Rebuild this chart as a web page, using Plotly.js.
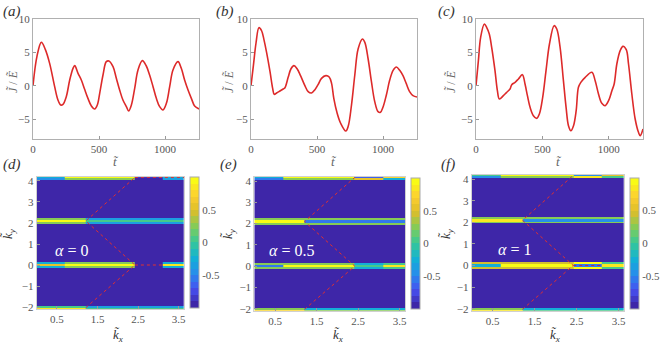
<!DOCTYPE html>
<html>
<head>
<meta charset="utf-8">
<script src="https://cdn.plot.ly/plotly-3.0.1.min.js"></script>
<style>body{margin:0;background:#fff}#chart{width:664px;height:350px}</style>
</head>
<body>
<div id="chart"></div>
<script>
// current J/E versus time (a)-(c)
const tA = [0, 30, 63, 93, 126, 164, 189, 210, 227, 252, 278, 303, 316, 341, 366, 391, 416, 442, 467, 487, 505, 530, 555, 575, 606, 631, 656, 681, 707, 724, 745, 770, 795, 828, 858, 883, 909, 934, 959, 984, 1010, 1035, 1060, 1098, 1123, 1148, 1174, 1199, 1224, 1257];
const jA = [0, 4.4, 6.5, 5.45, 3.35, -0.15, -2.15, -2.9, -2.8, -1.65, 0.85, 2.6, 3.0, 1.85, 0.85, -0.55, -1.9, -3.05, -3.5, -2.9, -1.15, 1.6, 3.6, 3.7, 2.85, 1.1, -0.65, -2.15, -3.15, -3.8, -2.9, -0.4, 2.35, 3.75, 2.95, 1.6, -0.15, -1.9, -3.15, -3.65, -2.65, -0.15, 2.35, 3.6, 2.6, 0.85, -0.65, -1.9, -3.05, -3.5];

const tB = [0, 18, 38, 60, 81, 98, 118, 144, 164, 176, 194, 219, 244, 257, 282, 302, 325, 350, 375, 408, 433, 458, 484, 509, 534, 567, 592, 610, 627, 652, 678, 718, 736, 761, 786, 811, 844, 862, 887, 912, 937, 962, 980, 1000, 1025, 1050, 1076, 1101, 1126, 1151, 1176, 1201, 1227, 1257];
const jB = [0, 3.0, 6.4, 8.7, 8.2, 6.9, 5.0, 2.1, -0.4, -1.3, -1.1, -0.8, -0.5, -0.3, 1.3, 2.5, 3.0, 2.5, 1.5, 0, -0.9, -1.1, -0.6, 0.2, 1.1, 1.5, 1.3, 0.35, -1.9, -4.1, -5.6, -6.8, -6.1, -2.9, 1.6, 5.5, 7.0, 6.5, 4.0, 0.6, -2.4, -3.9, -4.0, -3.2, -1.4, 0.8, 2.3, 2.8, 2.3, 1.5, 0.3, -0.9, -1.5, -1.7];

const tC = [0, 18, 35, 63, 80, 100, 118, 143, 161, 176, 206, 231, 256, 269, 294, 319, 349, 369, 387, 407, 432, 457, 477, 502, 527, 553, 588, 608, 633, 658, 678, 696, 714, 734, 754, 771, 789, 822, 872, 897, 922, 947, 972, 998, 1023, 1040, 1060, 1085, 1106, 1131, 1148, 1173, 1198, 1223, 1236, 1257];
const jC = [0, 3.75, 7.25, 9.25, 8.75, 7.75, 5.75, 2.25, -0.75, -2.0, -1.5, -1.0, -0.5, 0.15, 0.5, 1.0, 1.65, 0.25, -1.5, -3.25, -4.5, -4.9, -4.25, -1.75, 2.25, 6.25, 9.0, 8.5, 5.75, 0.75, -3.25, -6.0, -6.75, -6.0, -3.75, -0.25, 0.5, 1.25, 2.0, 0.75, -1.25, -2.65, -3.0, -2.25, -0.75, 0.25, 3.25, 5.25, 5.9, 5.4, 3.25, -1.25, -5.0, -7.0, -7.5, -6.5];

// momentum-space maps (d)-(f): cell edges and values
const kxEdges = [0, 0.7, 1.21, 2.42, 3.1, 3.63];
const kyEdges = [-2.094, -2.04, -1.95, -0.15, -0.06, 0.06, 0.15, 1.945, 2.035, 2.155, 2.245, 4.04, 4.13, 4.189];
const bg = -0.95;
const zD = [
  [0.8, 0.8, 0.0, 0.0, 0.0],
  [0.1, 0.1, -0.4, -0.4, -0.4],
  [bg, bg, bg, bg, bg],
  [-0.2, 0.3, 0.3, bg, -0.3],
  [0.6, 0.95, 0.95, bg, 0.8],
  [-0.2, 0.3, 0.3, bg, -0.3],
  [bg, bg, bg, bg, bg],
  [0.3, 0.3, -0.35, -0.35, -0.35],
  [0.9, 0.9, 0.05, 0.05, 0.05],
  [0.3, 0.3, -0.35, -0.35, -0.35],
  [bg, bg, bg, bg, bg],
  [-0.5, 0.3, 0.3, bg, -0.4],
  [-0.2, 0.9, 0.9, -0.9, -0.2]
];
const zE = [
  [0.75, 0.75, 0.2, 0.2, 0.2],
  [0.2, 0.2, -0.3, -0.3, -0.3],
  [bg, bg, bg, bg, bg],
  [0.2, 0.3, 0.3, -0.2, 0.0],
  [-0.6, 1.0, 1.0, 0.0, 0.8],
  [0.2, 0.3, 0.3, -0.2, 0.0],
  [bg, bg, bg, bg, bg],
  [0.2, 0.2, 0.3, 0.3, 0.3],
  [0.9, 0.9, -0.6, -0.6, -0.6],
  [0.2, 0.2, 0.3, 0.3, 0.3],
  [bg, bg, bg, bg, bg],
  [-0.6, 0.2, 0.2, 0.5, -0.3],
  [-0.2, 0.9, 0.9, -0.7, 0.7]
];
const zF = [
  [0.8, 0.8, 0.1, 0.1, 0.1],
  [0.3, 0.3, -0.3, -0.3, -0.3],
  [bg, bg, bg, bg, bg],
  [0.4, 0.4, 0.4, 0.9, 0.1],
  [-0.3, 1.0, 1.0, -0.6, 0.8],
  [0.4, 0.4, 0.4, 0.9, 0.1],
  [bg, bg, bg, bg, bg],
  [0.3, 0.3, 0.2, 0.2, 0.2],
  [0.85, 0.85, -0.5, -0.5, -0.5],
  [0.3, 0.3, 0.2, 0.2, 0.2],
  [bg, bg, bg, bg, bg],
  [-0.5, 0.3, 0.3, 0.8, 0.0],
  [0.0, 0.9, 0.9, -0.5, 0.6]
];
// red zone-boundary path
const pathKx = [1.21, 2.42, 1.21, 2.42];
const pathKy = [-2.03, 0, 2.094, 4.17];
const flatKx = [2.42, 3.1];
const flatKy = [0, 0];
const topKx = [2.42, 3.63];
const topKy = [4.17, 4.17];
const alphaValues = ['0', '0.5', '1'];

// stepped parula
const parula = [[62,38,168],[70,80,240],[40,140,235],[18,177,214],[55,200,151],[129,204,89],[220,189,41],[252,207,48],[249,251,21]];
function parulaAt(f) {
  const p = f * (parula.length - 1), i = Math.min(Math.floor(p), parula.length - 2), r = p - i;
  const c = parula[i].map((v, k) => Math.round(v + (parula[i + 1][k] - v) * r));
  return 'rgb(' + c.join(',') + ')';
}
const nLev = 20, steps = [];
for (let i = 0; i < nLev; i++) {
  const col = parulaAt(i / (nLev - 1));
  steps.push([i / nLev, col], [(i + 1) / nLev, col]);
}

const W = 664, H = 350;
const px = p => p / W, py = p => 1 - p / H;
const serif = '"Liberation Serif", "Times New Roman", Times, serif';
const tickFont = {family: serif, size: 11, color: '#555'};

function axis(dom, extra) {
  return Object.assign({domain: dom, showline: true, mirror: true, linecolor: '#b0b0b0', linewidth: 1,
    ticks: 'inside', ticklen: 3, tickcolor: '#999', showgrid: false, zeroline: false, tickfont: tickFont}, extra);
}

const red = '#dd2a2a';
const data = [
  {x: tA, y: jA, xaxis: 'x', yaxis: 'y', mode: 'lines', line: {color: red, width: 1.6, shape: 'spline'}},
  {x: tB, y: jB, xaxis: 'x2', yaxis: 'y2', mode: 'lines', line: {color: red, width: 1.6, shape: 'spline'}},
  {x: tC, y: jC, xaxis: 'x3', yaxis: 'y3', mode: 'lines', line: {color: red, width: 1.6, shape: 'spline'}}
];

const maps = [zD, zE, zF];
const cbX = [190, 410.7, 630];
const cbMid = [242.5, 243.5, 243];
maps.forEach((z, i) => {
  const n = i + 4;
  data.push({type: 'heatmap', x: kxEdges, y: kyEdges, z: z, zmin: -1, zmax: 1, colorscale: steps,
    xaxis: 'x' + n, yaxis: 'y' + n, hoverinfo: 'skip',
    colorbar: {x: px(cbX[i]), xanchor: 'left', xref: 'paper', thickness: 9, thicknessmode: 'pixels',
      len: 131, lenmode: 'pixels', y: py(cbMid[i]), yanchor: 'middle', xpad: 0, ypad: 0,
      outlinewidth: 1, outlinecolor: '#aaa', tickvals: [-0.5, 0, 0.5], ticktext: ['-0.5', '0', '0.5'],
      ticks: '', tickfont: {family: serif, size: 11, color: '#555'}}});
  data.push({x: pathKx, y: pathKy, xaxis: 'x' + n, yaxis: 'y' + n, mode: 'lines',
    line: {color: '#e03030', width: 1, dash: 'dot'}});
});
data.push({x: flatKx, y: flatKy, xaxis: 'x4', yaxis: 'y4', mode: 'lines', line: {color: '#e03030', width: 1, dash: 'dot'}});
data.push({x: topKx, y: topKy, xaxis: 'x4', yaxis: 'y4', mode: 'lines', line: {color: '#e03030', width: 1, dash: 'dot'}});
data.push({x: flatKx, y: flatKy, xaxis: 'x6', yaxis: 'y6', mode: 'lines', line: {color: '#c03040', width: 1, dash: 'dot'}});

const topY = [py(139), py(19)];
const tX = {range: [0, 1257], tickvals: [0, 500, 1000]};
const tY = {range: [-8, 10], tickvals: [-5, 0, 5, 10]};
const kX = {range: [0, 3.63], tickvals: [0.5, 1.5, 2.5, 3.5], ticktext: ['0.5', '1.5', '2.5', '3.5'], linecolor: '#d0d0d0'};
const kY = {range: [-2.094, 4.189], tickvals: [-2, -1, 0, 1, 2, 3, 4], linecolor: '#d0d0d0'};

const layout = {
  width: W, height: H, margin: {l: 0, r: 0, t: 0, b: 0}, showlegend: false,
  paper_bgcolor: '#fff', plot_bgcolor: '#fff',
  font: {family: serif},
  xaxis: axis([px(33), px(199)], Object.assign({anchor: 'y'}, tX)),
  yaxis: axis(topY, Object.assign({anchor: 'x'}, tY)),
  xaxis2: axis([px(251), px(417)], Object.assign({anchor: 'y2'}, tX)),
  yaxis2: axis(topY, Object.assign({anchor: 'x2'}, tY)),
  xaxis3: axis([px(476), px(643)], Object.assign({anchor: 'y3'}, tX)),
  yaxis3: axis(topY, Object.assign({anchor: 'x3'}, tY)),
  xaxis4: axis([px(36.7), px(184)], Object.assign({anchor: 'y4'}, kX)),
  yaxis4: axis([py(309), py(177)], Object.assign({anchor: 'x4'}, kY)),
  xaxis5: axis([px(254.3), px(405)], Object.assign({anchor: 'y5'}, kX)),
  yaxis5: axis([py(310.7), py(177)], Object.assign({anchor: 'x5'}, kY)),
  xaxis6: axis([px(471.7), px(624)], Object.assign({anchor: 'y6'}, kX)),
  yaxis6: axis([py(310.7), py(175)], Object.assign({anchor: 'x6'}, kY)),
  annotations: []
};

function note(text, x, y, size, color, extra) {
  layout.annotations.push(Object.assign({text: text, x: px(x), y: py(y), xref: 'paper', yref: 'paper',
    showarrow: false, xanchor: 'center', yanchor: 'middle',
    font: {family: serif, size: size, color: color}}, extra || {}));
}
// panel letters
[['(a)', 12, 12], ['(b)', 225, 12], ['(c)', 446, 12], ['(d)', 12, 164], ['(e)', 228, 164], ['(f)', 448, 164]]
  .forEach(l => note('<i>' + l[0] + '</i>', l[1], l[2], 15, '#333'));
// axis titles
[13, 229, 451].forEach(x => note('<i>J\u0303</i> / <i>E\u0303</i>', x, 82, 12, '#666', {textangle: -90}));
[116, 334, 559].forEach(x => note('<i>t\u0303</i>', x, 161, 13, '#666'));
[8, 228, 446].forEach(x => note('<i>k\u0303<sub>y</sub></i>', x, 234, 13, '#333', {textangle: -90}));
[118, 338, 555].forEach(x => note('<i>k\u0303<sub>x</sub></i>', x, 335, 13, '#333'));
// alpha labels
[[71, 250], [291, 250], [514, 249]].forEach((p, i) =>
  note('<i>\u03b1</i> = ' + alphaValues[i], p[0], p[1], 16, '#fff'));

Plotly.newPlot('chart', data, layout, {displayModeBar: false, staticPlot: true});
</script>
</body>
</html>
